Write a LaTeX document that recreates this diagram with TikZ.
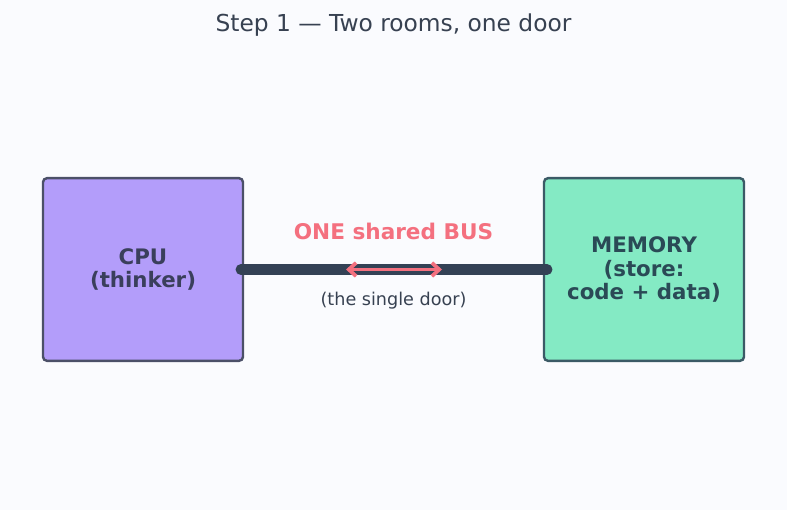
\documentclass[tikz,border=0pt]{standalone}
\usepackage{fontspec}
\setmainfont{DejaVu Sans}
\usetikzlibrary{arrows.meta}
\definecolor{bg}{HTML}{FAFBFE}
\definecolor{cpufill}{HTML}{B39DFA}
\definecolor{cpuline}{HTML}{4B5068}
\definecolor{cputext}{HTML}{3A3F5C}
\definecolor{memfill}{HTML}{84EAC4}
\definecolor{memline}{HTML}{3B5A66}
\definecolor{memtext}{HTML}{2A4A56}
\definecolor{bus}{HTML}{334155}
\definecolor{pink}{HTML}{F4707F}
\definecolor{ink}{HTML}{374151}
\begin{document}
\begin{tikzpicture}[x=0.75pt,y=-0.75pt,
  room/.style={draw, line width=1.8pt, rounded corners=3pt, minimum width=150pt, minimum height=137pt, align=center, font=\fontsize{16}{17.6}\selectfont\bfseries},
  lbl/.style={align=center}]
\fill[bg] (0,0) rectangle (787,510);
\useasboundingbox (0,0) rectangle (787,510);
\node[lbl, text=ink, font=\fontsize{17.5}{20}\selectfont] (title) at (393.5,25.5) {Step 1 — Two rooms, one door};
\node[room, fill=cpufill, draw=cpuline, text=cputext] (cpu) at (143,269.5) {CPU\\(thinker)};
\node[room, fill=memfill, draw=memline, text=memtext] (mem) at (644,269.5) {MEMORY\\(store:\\code + data)};
\coordinate (b1) at (241,269.5);
\coordinate (b2) at (547,269.5);
\draw[bus, line width=8.2pt, line cap=round] (b1) -- (b2);
\coordinate (a1) at (346,269.5);
\coordinate (a2) at (442,269.5);
\draw[pink, line width=2.8pt, {Straight Barb[length=5.5pt,width=10pt]}-{Straight Barb[length=5.5pt,width=10pt]}] (a1) -- (a2);
\node[lbl, text=pink, font=\fontsize{16.2}{19}\selectfont\bfseries] (busl) at (393.5,231.5) {ONE shared BUS};
\node[lbl, text=ink, font=\fontsize{13.2}{15}\selectfont] (door) at (393.5,300.5) {(the single door)};
\end{tikzpicture}
\end{document}
